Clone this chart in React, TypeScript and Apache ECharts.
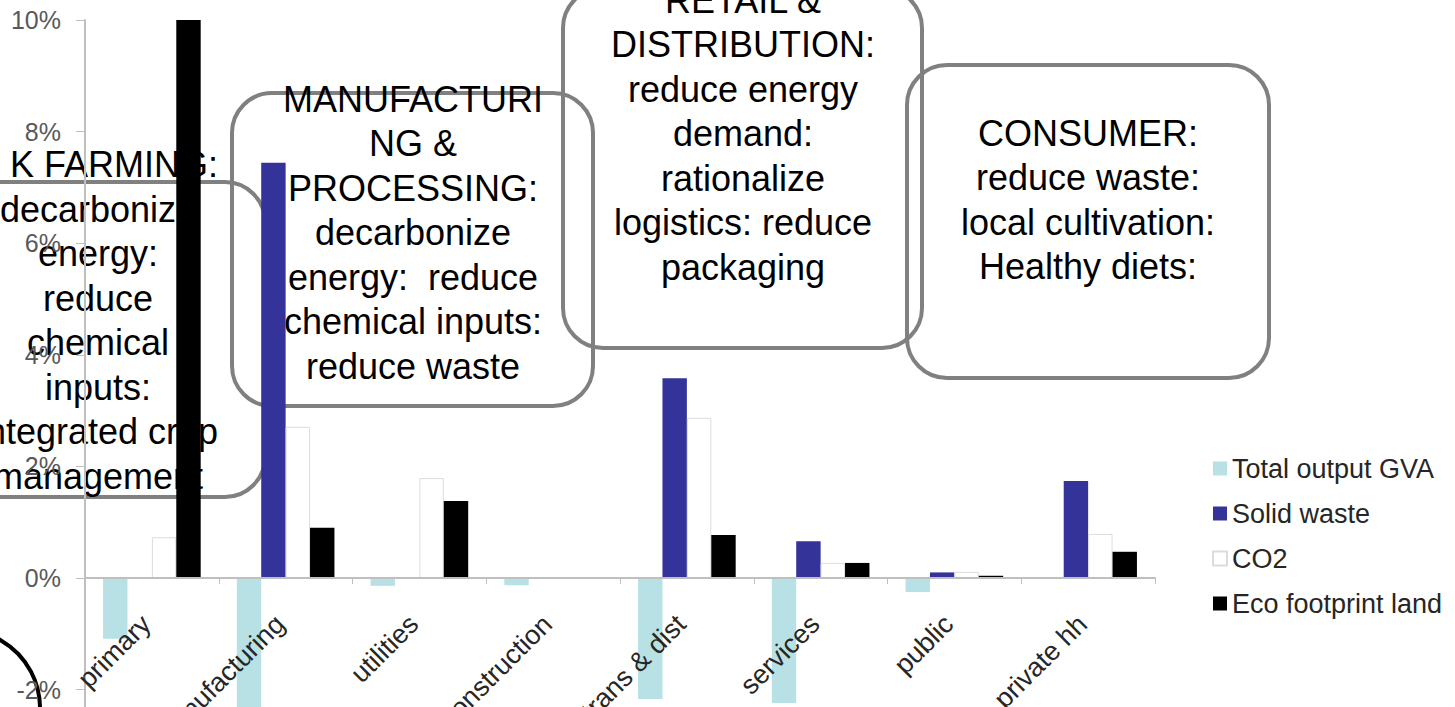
import React, { useEffect, useRef } from 'react';
import * as echarts from 'echarts';

const categories = ['primary', 'manufacturing', 'utilities', 'construction', 'trans & dist', 'services', 'public', 'private hh'];
const seriesNames = ['Total output GVA', 'Solid waste', 'CO2', 'Eco footprint land'];
const gva = [-1.09, -2.6, -0.14, -0.13, -2.17, -2.24, -0.25, 0];
const solidWaste = [0, 7.44, 0, 0, 3.58, 0.66, 0.1, 1.74];
const co2 = [0.73, 2.71, 1.79, 0, 2.87, 0.27, 0.11, 0.79];
const ecoLand = [10, 0.9, 1.38, 0, 0.77, 0.27, 0.04, 0.47];

const farmingLines = ['decarbonize', 'energy:', 'reduce', 'chemical', 'inputs:', 'integrated crop', 'management'];
const farmingHead = 'K FARMING:';
const manufacturingLines = ['MANUFACTURI', 'NG &', 'PROCESSING:', 'decarbonize', 'energy:  reduce', 'chemical inputs:', 'reduce waste'];
const retailLines = ['RETAIL &', 'DISTRIBUTION:', 'reduce energy', 'demand:', 'rationalize', 'logistics: reduce', 'packaging'];
const consumerLines = ['CONSUMER:', 'reduce waste:', 'local cultivation:', 'Healthy diets:'];

const FONT = '"Liberation Sans", Arial, Helvetica, sans-serif';
const LINE_H = 44.5;

// y-axis scale constants
const Y_MIN = -4;
const Y_MAX = 10;
const GRID_TOP = 20;
const PX_PER_UNIT = 55.8;
const GRID_H = (Y_MAX - Y_MIN) * PX_PER_UNIT;
const ZERO_OFFSET = -Y_MIN * PX_PER_UNIT; // distance from grid bottom up to zero line

function textEl(text: string, x: number, y: number, align: string = 'center') {
  return {
    type: 'text',
    x,
    y,
    z: 0,
    silent: true,
    style: {
      text,
      fill: '#000000',
      font: `36px ${FONT}`,
      textAlign: align,
      align,
      textVerticalAlign: 'middle',
      verticalAlign: 'middle',
    },
  };
}

function lineEls(lines: string[], cx: number, y0: number) {
  return lines.map((t, i) => textEl(t, cx, y0 + i * LINE_H));
}

function boxEl(x: number, y: number, w: number, h: number) {
  return {
    type: 'rect',
    z: 0,
    silent: true,
    shape: { x, y, width: w, height: h, r: 40 },
    style: { fill: 'transparent', stroke: '#808080', lineWidth: 4 },
  };
}

export default function App() {
  const ref = useRef<HTMLDivElement>(null);
  useEffect(() => {
    if (!ref.current) return;
    const chart = echarts.init(ref.current, null, { renderer: 'svg' });
    const bar = (name: string, data: number[], color: string, border?: string) => ({
      name,
      type: 'bar',
      data,
      barGap: '0%',
      barCategoryGap: '27%',
      itemStyle: border
        ? { color, borderColor: border, borderWidth: 1 }
        : { color },
    });
    chart.setOption({
      animation: false,
      backgroundColor: '#ffffff',
      grid: {
        left: 85,
        right: 300,
        top: GRID_TOP,
        height: GRID_H,
        containLabel: false,
        outerBoundsMode: 'none',
      },
      legend: {
        orient: 'vertical',
        left: 1207,
        top: 450,
        itemWidth: 14,
        itemHeight: 14,
        itemGap: 18,
        icon: 'rect',
        data: seriesNames,
        textStyle: { fontSize: 27, color: '#262626', fontFamily: FONT },
      },
      xAxis: {
        type: 'category',
        data: categories,
        position: 'bottom',
        offset: -ZERO_OFFSET,
        z: 5,
        axisLine: { onZero: false, lineStyle: { color: '#bfbfbf', width: 2 } },
        axisTick: { show: true, length: 6, lineStyle: { color: '#bfbfbf' } },
        axisLabel: {
          interval: 0,
          rotate: 45,
          margin: 36,
          padding: [0, 8, 0, 0],
          fontSize: 27,
          color: '#262626',
          fontFamily: FONT,
        },
        splitLine: { show: false },
      },
      yAxis: {
        type: 'value',
        min: Y_MIN,
        max: Y_MAX,
        interval: 2,
        axisLine: { show: true, lineStyle: { color: '#bfbfbf', width: 2 } },
        axisTick: { show: true, length: 9, lineStyle: { color: '#bfbfbf' } },
        axisLabel: {
          formatter: '{value}%',
          fontSize: 25,
          color: '#595959',
          margin: 24,
          fontFamily: FONT,
        },
        splitLine: { show: false },
      },
      series: [
        bar(seriesNames[0], gva, '#b7e1e4'),
        bar(seriesNames[1], solidWaste, '#333399'),
        bar(seriesNames[2], co2, '#ffffff', '#dcdcdc'),
        bar(seriesNames[3], ecoLand, '#000000'),
      ],
      graphic: {
        elements: [
          boxEl(-100, 182, 365, 315),
          boxEl(232, 93, 361, 313),
          boxEl(563, -12, 359, 360),
          boxEl(907, 65, 362, 313),
          {
            type: 'circle',
            z: 0,
            silent: true,
            shape: { cx: -38, cy: 708, r: 78 },
            style: { fill: 'transparent', stroke: '#000000', lineWidth: 4 },
          },
          textEl(farmingHead, 218, 164, 'right'),
          ...lineEls(farmingLines, 98, 209),
          ...lineEls(manufacturingLines, 413, 99),
          ...lineEls(retailLines, 743, 0),
          ...lineEls(consumerLines, 1088, 133),
        ],
      },
    });
    return () => chart.dispose();
  }, []);
  return (
    <div
      ref={ref}
      style={{ position: 'fixed', left: 0, top: 0, width: 1455, height: 707, background: '#fff' }}
    />
  );
}
